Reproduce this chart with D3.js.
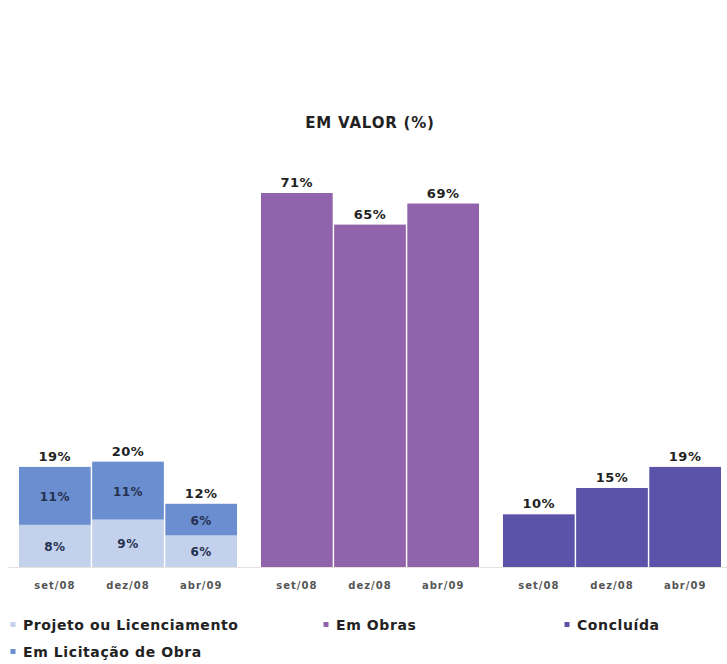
<!DOCTYPE html>
<html><head><meta charset="utf-8">
<script src="https://cdn.jsdelivr.net/npm/d3@7"></script>
<style>body{margin:0;background:#fff}svg{display:block}</style>
</head><body>
<script>
const periods = ["set/08", "dez/08", "abr/09"];
const groups = ["Licitação", "Em Obras", "Concluída"];
const projeto = [8, 9, 6];
const licitacao = [11, 11, 6];
const licitacaoTotal = [19, 20, 12];
const emObras = [71, 65, 69];
const concluida = [10, 15, 19];
const legendItems = ["Projeto ou Licenciamento", "Em Obras", "Concluída", "Em Licitação de Obra"];
const colors = {projeto: "#c3d1ec", licitacao: "#6b8ed0", obras: "#9163ac", concluida: "#5b52aa"};

const W = 727, H = 664;
const svg = d3.select("body").append("svg").attr("width", W).attr("height", H);
const font = "'DejaVu Sans', Verdana, sans-serif";

const outer = d3.scaleBand().domain(groups).range([19, 721]).paddingInner(0.099).paddingOuter(0);
const inner = d3.scaleBand().domain(periods).range([0, outer.bandwidth()]).paddingInner(0.02);
const y = d3.scaleLinear().domain([0, 71]).range([567, 193]);

svg.append("line").attr("x1", 8).attr("x2", 727).attr("y1", y(0) + 0.5).attr("y2", y(0) + 0.5)
  .attr("stroke", "#e6e2dc").attr("stroke-width", 1);

svg.append("text").attr("x", 370).attr("y", 128).attr("text-anchor", "middle")
  .attr("font-family", font).attr("font-weight", "bold").attr("font-size", 15).attr("letter-spacing", 0.8)
  .attr("fill", "#222").text("EM VALOR (%)");

function gx(g, p) { return outer(g) + inner(p); }

function valueLabel(x, yy, t, size, color) {
  svg.append("text").attr("x", x).attr("y", yy).attr("text-anchor", "middle")
    .attr("font-family", font).attr("font-weight", "bold").attr("font-size", size)
    .attr("letter-spacing", 0.5).attr("fill", color).text(t);
}

periods.forEach((p, i) => {
  const g = groups[0];
  const cx = gx(g, p) + inner.bandwidth() / 2;
  svg.append("rect").attr("x", gx(g, p)).attr("width", inner.bandwidth())
    .attr("y", y(projeto[i])).attr("height", y(0) - y(projeto[i])).attr("fill", colors.projeto);
  svg.append("rect").attr("x", gx(g, p)).attr("width", inner.bandwidth())
    .attr("y", y(licitacaoTotal[i])).attr("height", y(projeto[i]) - y(licitacaoTotal[i])).attr("fill", colors.licitacao);
  valueLabel(cx, (y(0) + y(projeto[i])) / 2 + 5, projeto[i] + "%", 12, "#24304f");
  valueLabel(cx, (y(projeto[i]) + y(licitacaoTotal[i])) / 2 + 5, licitacao[i] + "%", 12, "#24304f");
  valueLabel(cx, y(licitacaoTotal[i]) - 6, licitacaoTotal[i] + "%", 13, "#222");
});

function simple(g, vals, color) {
  periods.forEach((p, i) => {
    svg.append("rect").attr("x", gx(g, p)).attr("width", inner.bandwidth())
      .attr("y", y(vals[i])).attr("height", y(0) - y(vals[i])).attr("fill", color);
    valueLabel(gx(g, p) + inner.bandwidth() / 2, y(vals[i]) - 6, vals[i] + "%", 13, "#222");
  });
}
simple(groups[1], emObras, colors.obras);
simple(groups[2], concluida, colors.concluida);

groups.forEach(g => {
  periods.forEach(p => {
    svg.append("text").attr("x", gx(g, p) + inner.bandwidth() / 2).attr("y", 589)
      .attr("text-anchor", "middle").attr("font-family", font).attr("font-weight", "bold").attr("font-size", 10)
      .attr("letter-spacing", 1).attr("fill", "#555").text(p);
  });
});

const legPos = [[13, 625], [326, 625], [567, 625], [13, 652]];
const legCol = [colors.projeto, colors.obras, colors.concluida, colors.licitacao];
legendItems.forEach((t, i) => {
  const [lx, ly] = legPos[i];
  svg.append("rect").attr("x", lx - 2.5).attr("y", ly - 3).attr("width", 5).attr("height", 5).attr("fill", legCol[i]);
  svg.append("text").attr("x", lx + 10).attr("y", ly + 5).attr("font-family", font).attr("font-weight", "bold")
    .attr("font-size", 14).attr("letter-spacing", 0.6).attr("fill", "#222").text(t);
});
</script>
</body></html>
